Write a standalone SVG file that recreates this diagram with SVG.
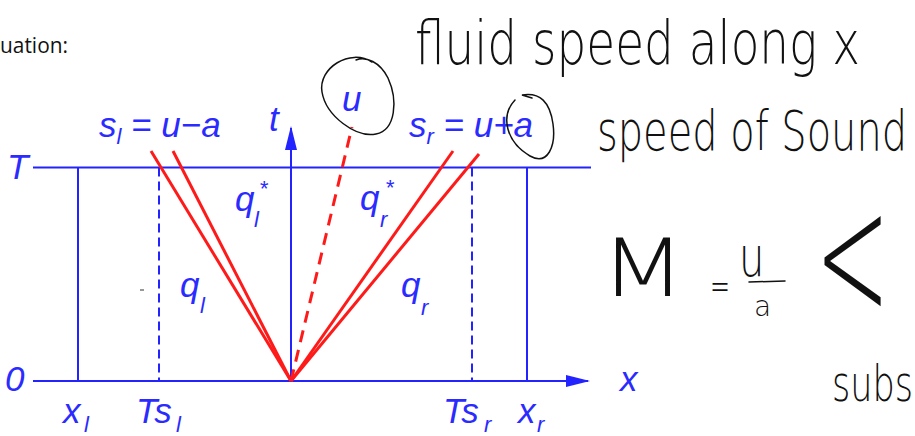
<svg xmlns="http://www.w3.org/2000/svg" width="915" height="436" viewBox="0 0 915 436">
<defs>
<style>
.ax{stroke:#2323ff;stroke-width:2;fill:none}
.dash{stroke:#2323ff;stroke-width:2;fill:none;stroke-dasharray:9 5}
.red{stroke:#ff1a1a;stroke-width:3;fill:none}
.reddash{stroke:#ff1a1a;stroke-width:3;fill:none;stroke-dasharray:12 8}
.lbl{font-family:"Liberation Sans",Arial,sans-serif;font-style:italic;font-size:35px;fill:#2b2bff}
.sub{font-size:22px}
.hand{font-family:"DejaVu Sans",sans-serif;font-weight:200;fill:#111}
.ink{stroke:#111;stroke-width:1.5;fill:none;stroke-linecap:round}
</style>
<marker id="arr" markerWidth="24" markerHeight="12" refX="22" refY="6" orient="auto" markerUnits="userSpaceOnUse">
<path d="M0,0 L24,6 L0,12 z" fill="#2323ff"/>
</marker>
</defs>
<rect width="915" height="436" fill="#fff"/>
<text x="0" y="53" font-family="'Open Sans','Liberation Sans',sans-serif" font-size="21" textLength="68" lengthAdjust="spacingAndGlyphs" fill="#111">uation:</text>

<g id="axes">
<line class="ax" x1="33" y1="381" x2="588" y2="381" marker-end="url(#arr)"/>
<line class="ax" x1="291" y1="381" x2="291" y2="128" marker-end="url(#arr)"/>
<line class="ax" x1="33" y1="167.5" x2="591" y2="167.5"/>
<line class="ax" x1="78" y1="167.5" x2="78" y2="381"/>
<line class="ax" x1="527" y1="167.5" x2="527" y2="381"/>
<line class="dash" x1="159" y1="167.5" x2="159" y2="381"/>
<line class="dash" x1="472" y1="167.5" x2="472" y2="381"/>
<line x1="140" y1="290" x2="144" y2="290" stroke="#333" stroke-width="1"/>
</g>

<g id="waves">
<line class="red" x1="291" y1="381" x2="151" y2="151"/>
<line class="red" x1="291" y1="381" x2="173" y2="151"/>
<line class="red" x1="291" y1="381" x2="453" y2="151"/>
<line class="red" x1="291" y1="381" x2="479" y2="154"/>
<line class="reddash" x1="291" y1="381" x2="352" y2="127"/>
</g>

<g id="labels">
<text class="lbl" x="7" y="179">T</text>
<text class="lbl" x="5" y="391">0</text>
<text class="lbl" x="269" y="131">t</text>
<text class="lbl" x="620" y="391">x</text>
<text class="lbl" x="342" y="111">u</text>
<text class="lbl" x="99" y="137">s<tspan class="sub" dy="7">l</tspan><tspan dy="-7"> = u−a</tspan></text>
<text class="lbl" x="409" y="137">s<tspan class="sub" dy="7">r</tspan><tspan dy="-7"> = u+a</tspan></text>
<text class="lbl" x="235" y="211">q</text><text class="lbl sub" x="254" y="227">l</text><text class="lbl sub" x="259" y="196">*</text>
<text class="lbl" x="360" y="210">q</text><text class="lbl sub" x="380" y="227">r</text><text class="lbl sub" x="385" y="195">*</text>
<text class="lbl" x="180" y="297">q</text><text class="lbl sub" x="200" y="313">l</text>
<text class="lbl" x="401" y="297">q</text><text class="lbl sub" x="421" y="315">r</text>
<text class="lbl" x="63" y="423">x</text><text class="lbl sub" x="84" y="432">l</text>
<text class="lbl" x="136" y="423">Ts</text><text class="lbl sub" x="176" y="432">l</text>
<text class="lbl" x="443" y="423">Ts</text><text class="lbl sub" x="484" y="432">r</text>
<text class="lbl" x="518" y="423">x</text><text class="lbl sub" x="537" y="432">r</text>
</g>

<g id="notes">
<path class="ink" d="M372,62 C350,48 318,68 322,92 C326,116 356,138 376,134 C396,130 398,100 388,78 C380,62 366,56 356,60"/>
<path class="ink" d="M515,100 C500,116 506,142 530,156 C548,166 556,146 553,124 C550,102 540,92 522,95 L532,98"/>
<text class="hand" transform="translate(415,64) scale(1,1.3)" x="0" y="0" font-size="47" textLength="445" lengthAdjust="spacingAndGlyphs">fluid speed along x</text>
<text class="hand" transform="translate(597,150) scale(1,1.4)" x="0" y="0" font-size="40" textLength="310" lengthAdjust="spacingAndGlyphs">speed of Sound</text>
<text class="hand" x="600" y="296" font-size="80" textLength="86" lengthAdjust="spacingAndGlyphs">M</text>
<text class="hand" x="710" y="300" font-size="40" textLength="20" lengthAdjust="spacingAndGlyphs">=</text>
<text class="hand" transform="translate(739,276) scale(1,1.4)" x="0" y="0" font-size="40">u</text>
<line class="ink" x1="749" y1="282" x2="785" y2="281"/>
<text class="hand" x="754" y="316" font-size="28">a</text>
<text class="hand" transform="translate(815,318) scale(1.28,2.6)" x="0" y="0" font-size="70">&lt;</text>
<text class="hand" transform="translate(832,401) scale(1,1.4)" x="0" y="0" font-size="36" textLength="81" lengthAdjust="spacingAndGlyphs">subs</text>
</g>
</svg>
